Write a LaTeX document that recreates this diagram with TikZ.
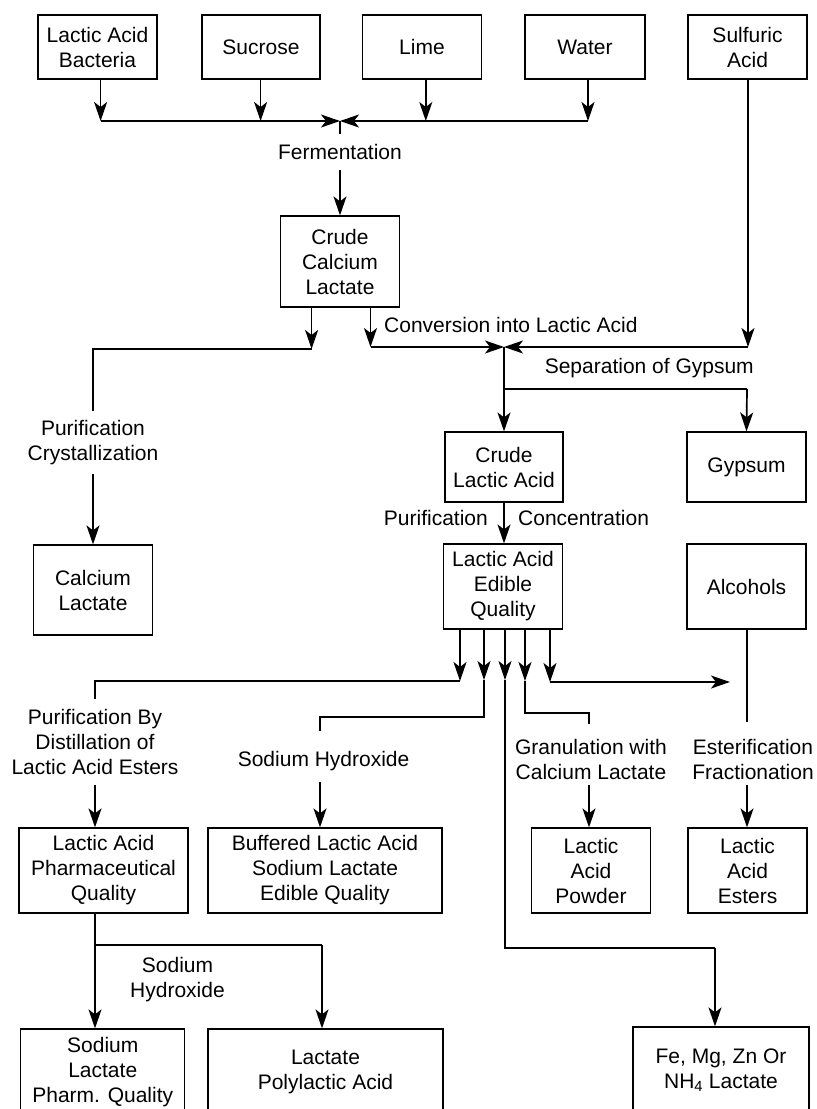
\documentclass[tikz,border=0pt]{standalone}
\usepackage{fontspec}
\setmainfont{Liberation Sans}
\usetikzlibrary{arrows.meta}
\newcommand\myfs{\fontsize{21}{25}\selectfont}
\begin{document}
\begin{tikzpicture}[x=1pt,y=-1pt,
  box/.style={draw, line width=1.2pt, align=center, inner sep=0pt, font=\myfs},
  tb/.style={box, minimum width=119pt, minimum height=64pt},
  lbl/.style={align=center, inner sep=0pt, font=\myfs},
  conn/.style={line width=1.7pt},
  arr/.style={line width=1.7pt, -{Stealth[length=19pt,width=13pt,inset=5pt]}}]
\useasboundingbox (0,0) rectangle (817,1109);

% top row
\node[tb] (lab) at (97.5,47) {Lactic Acid\\Bacteria};
\node[tb, minimum width=118pt] (suc) at (261,47) {Sucrose};
\node[tb] (lime) at (422,47) {Lime};
\node[tb, minimum width=120pt] (wat) at (585,47) {Water};
\node[tb] (sulf) at (747.5,47) {Sulfuric\\Acid};

\coordinate (t1) at (100.6,121);
\coordinate (t2) at (260.6,121);
\coordinate (t3) at (425.8,121);
\coordinate (t4) at (588,121);
\coordinate (j1) at (340,121);
\draw[arr] (lab.south -| t1) -- (t1);
\draw[arr] (suc.south -| t2) -- (t2);
\draw[arr] (lime.south -| t3) -- (t3);
\draw[arr] (wat.south -| t4) -- (t4);
\draw[arr] (t1) -- (j1);
\draw[arr] (t4) -- (j1);

\node[lbl, inner ysep=10pt] (ferm) at (340,152) {Fermentation};
\draw[conn] (j1) -- (ferm.north);
\node[box, minimum width=119.5pt, minimum height=91pt] (ccl) at (340,261.5) {Crude\\Calcium\\Lactate};
\draw[arr] (ferm.south) -- (ccl.north);

% conversion
\coordinate (c1) at (311.6,349);
\coordinate (c2) at (370.5,347);
\coordinate (j2) at (504,347);
\coordinate (s1) at (748,347);
\draw[arr] (ccl.south -| c1) -- (c1);
\draw[arr] (ccl.south -| c2) -- (c2);
\draw[arr] (sulf.south -| s1) -- (s1);
\draw[arr] (c2) -- (j2);
\draw[arr] (s1) -- (j2);
\node[lbl, anchor=west] (conv) at (384,325) {Conversion into Lactic Acid};

% left branch: calcium lactate
\coordinate (l1) at (93,349);
\coordinate (l2) at (93,411);
\draw[conn] (c1) -- (l1) -- (l2);
\node[lbl, anchor=north] (purc) at (93,420.5) {Purification\\Crystallization};
\node[box, minimum width=119pt, minimum height=90pt] (cal) at (93,590) {Calcium\\Lactate};
\coordinate (l3) at (93,474);
\draw[arr] (l3) -- (cal.north);

% gypsum separation
\coordinate (j3) at (504,389);
\coordinate (g1) at (747,389);
\draw[conn] (j2) -- (j3) -- (g1);
\node[lbl, anchor=west] (sep) at (544.6,368) {Separation of Gypsum};
\node[box, minimum width=118pt, minimum height=70pt] (cla) at (504,467) {Crude\\Lactic Acid};
\node[box, minimum width=119pt, minimum height=70pt] (gyp) at (746.5,467) {Gypsum};
\draw[arr] (j3) -- (cla.north);
\draw[arr] (g1) -- (gyp.north);

\node[box, minimum width=119pt, minimum height=85pt] (edq) at (503,586.5) {Lactic Acid\\Edible\\Quality};
\draw[arr] (cla.south) -- (cla.south |- edq.north);
\node[lbl, anchor=east] (pur2) at (488,518) {Purification};
\node[lbl, anchor=west] (conc) at (518,518) {Concentration};
\node[box, minimum width=119pt, minimum height=85pt] (alc) at (746.5,586.5) {Alcohols};

% five outlets
\coordinate (a1) at (460,681);
\coordinate (a2) at (484,680);
\coordinate (a3) at (505,680);
\coordinate (a4) at (525,681);
\coordinate (a5) at (550,682);
\draw[arr] (edq.south -| a1) -- (a1);
\draw[arr] (edq.south -| a2) -- (a2);
\draw[arr] (edq.south -| a3) -- (a3);
\draw[arr] (edq.south -| a4) -- (a4);
\draw[arr] (edq.south -| a5) -- (a5);

% outlet 1
\coordinate (p1) at (95,681);
\coordinate (p1b) at (95,699);
\draw[conn] (a1) -- (p1) -- (p1b);
\node[lbl, anchor=north] (pbd) at (95,709.5) {Purification By\\Distillation of\\Lactic Acid Esters};
\node[box, minimum width=169pt, minimum height=85pt] (pharm) at (103.5,870.5) {Lactic Acid\\Pharmaceutical\\Quality};
\coordinate (p1c) at (95,785);
\draw[arr] (p1c) -- (p1c |- pharm.north);

% outlet 2
\coordinate (p2) at (484,717);
\coordinate (p2b) at (320,717);
\coordinate (p2c) at (320,731);
\draw[conn] (a2) -- (p2) -- (p2b) -- (p2c);
\node[lbl] (sh1) at (323.6,761) {Sodium Hydroxide};
\node[box, minimum width=234pt, minimum height=85pt] (buf) at (325,870.5) {Buffered Lactic Acid\\Sodium Lactate\\Edible Quality};
\coordinate (p2d) at (320,782);
\draw[arr] (p2d) -- (p2d |- buf.north);

% outlet 3
\coordinate (p3) at (505,948);
\coordinate (p3b) at (715,948);
\draw[conn] (a3) -- (p3) -- (p3b);
\node[box, minimum width=176pt, minimum height=86pt] (fe) at (721,1070) {Fe, Mg, Zn Or\\NH\textsubscript{4} Lactate};
\draw[arr] (p3b) -- (p3b |- fe.north);

% outlet 4
\coordinate (p4) at (525,713);
\coordinate (p4b) at (589,713);
\coordinate (p4c) at (589,724);
\draw[conn] (a4) -- (p4) -- (p4b) -- (p4c);
\node[lbl, anchor=north] (gran) at (591,739.5) {Granulation with\\Calcium Lactate};
\node[box, minimum width=119pt, minimum height=85pt] (pow) at (591,870.5) {Lactic\\Acid\\Powder};
\coordinate (p4d) at (589,785);
\draw[arr] (p4d) -- (p4d |- pow.north);

% outlet 5 and alcohols
\coordinate (p5) at (730,682);
\draw[arr] (a5) -- (p5);
\coordinate (q1) at (747,722);
\draw[conn] (alc.south -| q1) -- (q1);
\node[lbl, anchor=north] (est) at (753,739.5) {Esterification\\Fractionation};
\node[box, minimum width=119pt, minimum height=85pt] (ester) at (747.5,870.5) {Lactic\\Acid\\Esters};
\coordinate (q2) at (747,785);
\draw[arr] (q2) -- (q2 |- ester.north);

% pharmaceutical branch
\coordinate (r1) at (95,945);
\coordinate (r2) at (322,945);
\draw[conn] (pharm.south -| r1) -- (r1) -- (r2);
\node[lbl, anchor=north] (sh2) at (177.5,957.5) {Sodium\\Hydroxide};
\node[box, minimum width=164pt, minimum height=86pt] (sodl) at (102.75,1072) {Sodium\\Lactate\\Pharm. Quality};
\node[box, minimum width=235pt, minimum height=86pt] (pla) at (325.5,1072) {Lactate\\Polylactic Acid};
\draw[arr] (r1) -- (r1 |- sodl.north);
\draw[arr] (r2) -- (r2 |- pla.north);
\end{tikzpicture}
\end{document}
